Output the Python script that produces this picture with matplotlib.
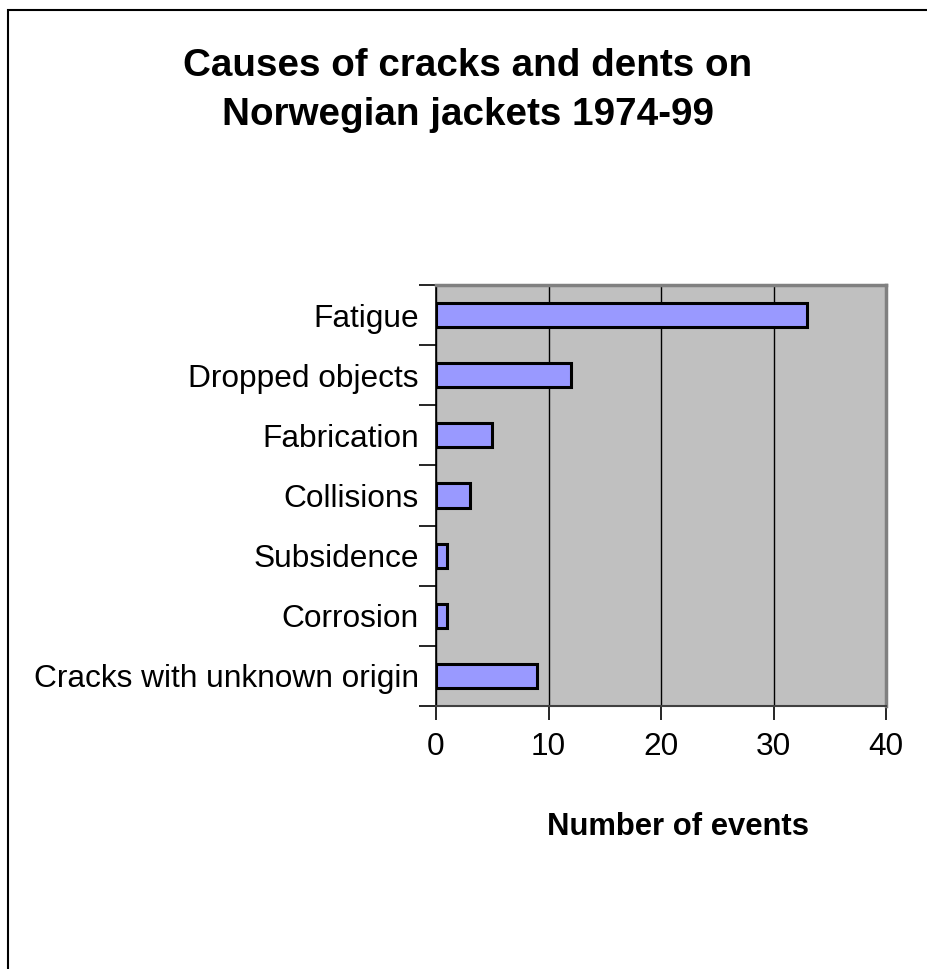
import matplotlib
matplotlib.use("Agg")
import matplotlib.pyplot as plt
from matplotlib.patches import Rectangle

plt.rcParams['font.family'] = ['Liberation Sans', 'DejaVu Sans']

categories = ["Fatigue", "Dropped objects", "Fabrication", "Collisions",
              "Subsidence", "Corrosion", "Cracks with unknown origin"]
events = [33, 12, 5, 3, 1, 1, 9]
x_ticks = [0, 10, 20, 30, 40]
title_lines = ["Causes of cracks and dents on", "Norwegian jackets 1974-99"]
x_title = "Number of events"

W, H = 928, 969
fig = plt.figure(figsize=(W / 100, H / 100), dpi=100)

# outer chart frame (only top and left edges fall inside the image)
fig.patches.append(Rectangle((8 / W, -0.2), 2.0, (H - 10) / H + 0.2,
                             transform=fig.transFigure, fill=False,
                             edgecolor='black', linewidth=1.5, zorder=0))

ax = fig.add_axes([436 / W, 1 - 706 / H, 450 / W, 421 / H])
ax.set_facecolor('#C0C0C0')

n = len(categories)
ypos = list(range(n))
ax.barh(ypos, events, height=0.4, color='#9999FF', edgecolor='black',
        linewidth=2.2, zorder=3)

ax.set_xlim(0, 40)
ax.set_ylim(n - 0.5, -0.5)
ax.set_xticks(x_ticks)
ax.set_xticklabels([str(t) for t in x_ticks], fontsize=22.8)
ax.xaxis.grid(True, color='black', linewidth=1.0, zorder=1)
ax.set_axisbelow(True)

# category labels centred on bars, tick marks on category boundaries
ax.set_yticks(ypos)
ax.set_yticklabels(categories, fontsize=22.8)
ax.tick_params(axis='y', which='major', length=0, pad=12.5)
ax.set_yticks([i - 0.5 for i in range(n + 1)], minor=True)
ax.tick_params(axis='y', which='minor', length=12, width=1.2, color='black')
ax.tick_params(axis='x', which='major', length=10, width=1.2, color='black', pad=9)

ax.spines['left'].set_color('black')
ax.spines['left'].set_linewidth(1.2)
ax.spines['bottom'].set_color('#404040')
ax.spines['bottom'].set_linewidth(1.5)
for s in ('top', 'right'):
    ax.spines[s].set_color('#808080')
    ax.spines[s].set_linewidth(2.5)

fig.text(678 / W, 1 - 835 / H, x_title, ha='center', va='baseline',
         fontsize=22.3, fontweight='bold')

for line, base in zip(title_lines, (76, 125)):
    fig.text(468 / W, 1 - base / H, line, ha='center', va='baseline',
             fontsize=27.8, fontweight='bold')

fig.savefig("out.png", dpi=100)
